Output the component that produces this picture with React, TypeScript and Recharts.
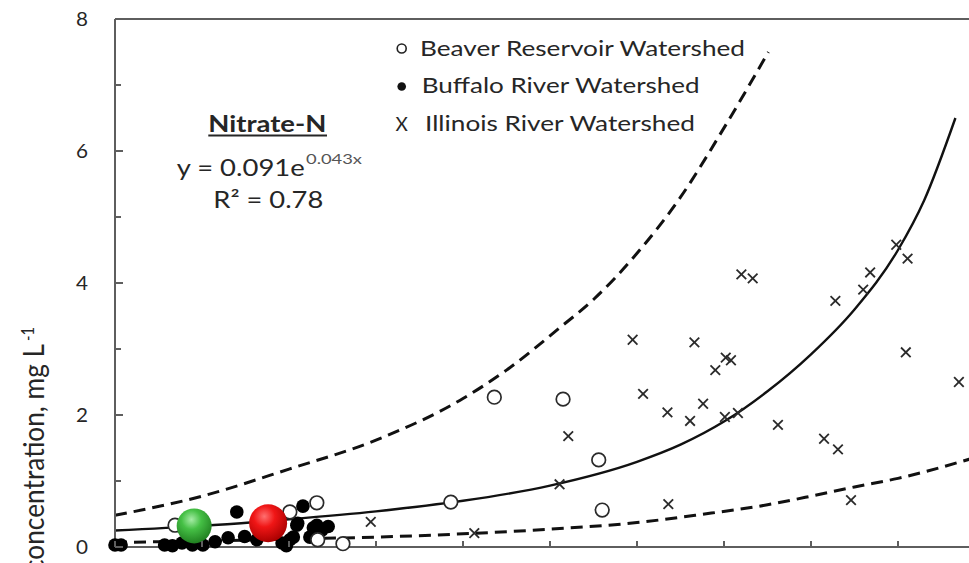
import React from 'react';
import { ComposedChart, XAxis, YAxis, Scatter, Line, ReferenceLine } from 'recharts';

// ---- axis ticks ----
const xTicks = [0, 10, 20, 30, 40, 50, 60, 70, 80, 90, 100];
const yTicks = [0, 1, 2, 3, 4, 5, 6, 7, 8];

// ---- Beaver Reservoir Watershed (open circles) ----
const beaverX = [43.6, 51.5, 55.6, 56.0, 38.6, 23.2, 20.1, 23.3, 26.2, 6.9];
const beaverY = [2.27, 2.24, 1.32, 0.56, 0.68, 0.67, 0.53, 0.11, 0.05, 0.33];

// ---- Buffalo River Watershed (filled circles) ----
const buffaloX = [0.0, 0.7, 5.7, 6.6, 7.7, 8.9, 10.1, 11.5, 13.0, 14.0, 14.9, 16.3, 19.2, 20.5, 20.1, 20.9, 21.6, 21.0, 22.4, 22.8, 23.2, 23.8, 24.5, 19.7];
const buffaloY = [0.03, 0.03, 0.03, 0.02, 0.06, 0.03, 0.03, 0.08, 0.14, 0.53, 0.16, 0.11, 0.06, 0.15, 0.11, 0.33, 0.62, 0.36, 0.15, 0.29, 0.33, 0.26, 0.31, 0.02];

// ---- Illinois River Watershed (x marks) ----
const illinoisX = [29.4, 41.3, 51.1, 52.1, 59.5, 66.6, 70.2, 70.8, 69.0, 60.7, 67.6, 63.5, 66.1, 70.1, 71.6, 72.0, 73.3, 63.6, 76.2, 81.5, 83.1, 84.6, 82.8, 86.0, 86.8, 89.8, 91.1, 90.9, 97.0];
const illinoisY = [0.38, 0.21, 0.95, 1.68, 3.14, 3.10, 2.87, 2.83, 2.68, 2.32, 2.17, 2.04, 1.91, 1.97, 2.03, 4.13, 4.07, 0.65, 1.85, 1.64, 1.48, 0.71, 3.73, 3.90, 4.16, 4.58, 4.37, 2.95, 2.50];

// ---- mean spheres ----
const greenX = [9.1];
const greenY = [0.32];
const redX = [17.6];
const redY = [0.36];

// ---- fitted curve (solid) and bounds (dashed) ----
const fitX = [0, 10, 20, 30, 40, 50, 60, 65, 70, 75, 80, 85, 90, 93, 96.6];
const fitY = [0.25, 0.32, 0.42, 0.54, 0.70, 0.93, 1.29, 1.55, 1.90, 2.36, 2.92, 3.60, 4.50, 5.25, 6.5];
const upperX = [0, 10, 20, 30, 40, 45, 51.1, 55, 60, 65, 70, 75.1];
const upperY = [0.48, 0.77, 1.18, 1.62, 2.25, 2.68, 3.32, 3.75, 4.45, 5.3, 6.35, 7.5];
const lowerX = [0, 10, 20, 30, 40, 50, 60, 67.2, 75, 80, 85, 90, 98.2, 100];
const lowerY = [0.07, 0.09, 0.12, 0.15, 0.20, 0.27, 0.37, 0.49, 0.64, 0.77, 0.91, 1.04, 1.33, 1.40];

const toPts = (xs: number[], ys: number[]) => xs.map((x, i) => ({ x, y: ys[i] }));

const beaver = toPts(beaverX, beaverY);
const buffalo = toPts(buffaloX, buffaloY);
const illinois = toPts(illinoisX, illinoisY);
const green = toPts(greenX, greenY);
const red = toPts(redX, redY);
const fit = toPts(fitX, fitY);
const upper = toPts(upperX, upperY);
const lower = toPts(lowerX, lowerY);

const FONT = 'Lato, "Open Sans", sans-serif';
const TXT = '#262626';
const AXIS = '#5e5e5e';
const AXIS_X = 115;
const AXIS_Y = 547;

const OpenCircle = (p: any) => (
  <circle cx={p.cx} cy={p.cy} r={6.8} fill="#fff" stroke="#2a2a2a" strokeWidth={1.7} />
);
const FilledCircle = (p: any) => <circle cx={p.cx} cy={p.cy} r={6.8} fill="#000" />;
const Cross = (p: any) => {
  const s = 4.8;
  return (
    <g stroke="#2a2a2a" strokeWidth={1.8}>
      <line x1={p.cx - s} y1={p.cy - s} x2={p.cx + s} y2={p.cy + s} />
      <line x1={p.cx - s} y1={p.cy + s} x2={p.cx + s} y2={p.cy - s} />
    </g>
  );
};
const GreenSphere = (p: any) => <circle cx={p.cx} cy={p.cy} r={17.5} fill="url(#gradGreen)" />;
const RedSphere = (p: any) => <circle cx={p.cx} cy={p.cy} r={19} fill="url(#gradRed)" />;

const YTick = (p: any) => {
  const v = p.payload.value;
  const major = v % 2 === 0;
  return (
    <g>
      <line x1={AXIS_X} x2={AXIS_X + (major ? 8 : 6)} y1={p.y} y2={p.y} stroke={AXIS} strokeWidth={2} />
      {major && (
        <text x={88} y={p.y - 1} textAnchor="end" dominantBaseline="central" fontSize={20} fontFamily={FONT} fill={TXT} textLength={12} lengthAdjust="spacingAndGlyphs">
          {v}
        </text>
      )}
    </g>
  );
};
const XTick = (p: any) => (
  <line x1={p.x} x2={p.x} y1={AXIS_Y} y2={AXIS_Y - 6} stroke={AXIS} strokeWidth={2} />
);

export default function App() {
  return (
    <div style={{ position: 'absolute', left: 0, top: 0, width: 969, height: 563, overflow: 'hidden', background: '#fff' }}>
      <ComposedChart width={1000} height={563} margin={{ top: 19, right: 15, bottom: 0, left: 0 }}>
        <defs>
          <radialGradient id="gradGreen" cx="42%" cy="32%" r="70%">
            <stop offset="0%" stopColor="#a6eca6" />
            <stop offset="40%" stopColor="#45c045" />
            <stop offset="100%" stopColor="#1f7d1f" />
          </radialGradient>
          <radialGradient id="gradRed" cx="40%" cy="32%" r="70%">
            <stop offset="0%" stopColor="#ff7070" />
            <stop offset="40%" stopColor="#f01616" />
            <stop offset="100%" stopColor="#a80000" />
          </radialGradient>
        </defs>
        <XAxis
          type="number"
          dataKey="x"
          domain={[0, 100]}
          ticks={xTicks}
          interval={0}
          height={16}
          axisLine={{ stroke: AXIS, strokeWidth: 2 }}
          tickLine={false}
          tickSize={0}
          tickMargin={0}
          tick={(p: any) => <XTick {...p} />}
        />
        <YAxis
          type="number"
          dataKey="y"
          domain={[0, 8]}
          ticks={yTicks}
          interval={0}
          width={115}
          axisLine={{ stroke: AXIS, strokeWidth: 2 }}
          tickLine={false}
          tickSize={0}
          tickMargin={0}
          tick={(p: any) => <YTick {...p} />}
        />
        <ReferenceLine y={8} stroke={AXIS} strokeWidth={2} />
        <Line data={upper} dataKey="y" type="monotone" stroke="#111" strokeWidth={3} strokeDasharray="12 7" dot={false} activeDot={false} isAnimationActive={false} />
        <Line data={lower} dataKey="y" type="monotone" stroke="#111" strokeWidth={3} strokeDasharray="12 7" dot={false} activeDot={false} isAnimationActive={false} />
        <Line data={fit} dataKey="y" type="monotone" stroke="#111" strokeWidth={2.4} dot={false} activeDot={false} isAnimationActive={false} />
        <Scatter data={buffalo} dataKey="y" shape={FilledCircle} isAnimationActive={false} />
        <Scatter data={beaver} dataKey="y" shape={OpenCircle} isAnimationActive={false} />
        <Scatter data={illinois} dataKey="y" shape={Cross} isAnimationActive={false} />
        <Scatter data={green} dataKey="y" shape={GreenSphere} isAnimationActive={false} />
        <Scatter data={red} dataKey="y" shape={RedSphere} isAnimationActive={false} />

        {/* legend */}
        <g fontFamily={FONT} fill={TXT}>
          <circle cx={401.7} cy={48.5} r={4.5} fill="none" stroke="#222" strokeWidth={1.6} />
          <circle cx={401.7} cy={86.5} r={4.3} fill="#111" />
          <text x={401.7} y={130.7} fontSize={19} textAnchor="middle">X</text>
          <text x={420} y={56} fontSize={22} textLength={325} lengthAdjust="spacingAndGlyphs">Beaver Reservoir Watershed</text>
          <text x={421.7} y={93.3} fontSize={22} textLength={278} lengthAdjust="spacingAndGlyphs">Buffalo River Watershed</text>
          <text x={425} y={130.7} fontSize={22} textLength={270} lengthAdjust="spacingAndGlyphs">Illinois River Watershed</text>
        </g>

        {/* annotation */}
        <g fontFamily={FONT} fill={TXT}>
          <text x={208.3} y={131.7} fontSize={23} fontWeight="bold" textLength={118} lengthAdjust="spacingAndGlyphs">Nitrate-N</text>
          <line x1={208.3} x2={327} y1={135.5} y2={135.5} stroke={TXT} strokeWidth={2} />
          <text x={176.7} y={175.7} fontSize={23} textLength={128} lengthAdjust="spacingAndGlyphs">y = 0.091e</text>
          <text x={306} y={164} fontSize={14} fill="#555" textLength={56} lengthAdjust="spacingAndGlyphs">0.043x</text>
          <text x={213.3} y={208.3} fontSize={23} textLength={110} lengthAdjust="spacingAndGlyphs">R² = 0.78</text>
        </g>

        {/* y-axis title (cropped in the reference) */}
        <g fontFamily={FONT} fill={TXT}>
          <text transform="translate(43.5,572) scale(1.27,1) rotate(-90)" fontSize={22} textLength={228} lengthAdjust="spacingAndGlyphs">concentration, mg L</text>
          <text transform="translate(34,341) scale(1.27,1) rotate(-90)" fontSize={13} textLength={14} lengthAdjust="spacingAndGlyphs">-1</text>
        </g>
      </ComposedChart>
    </div>
  );
}
